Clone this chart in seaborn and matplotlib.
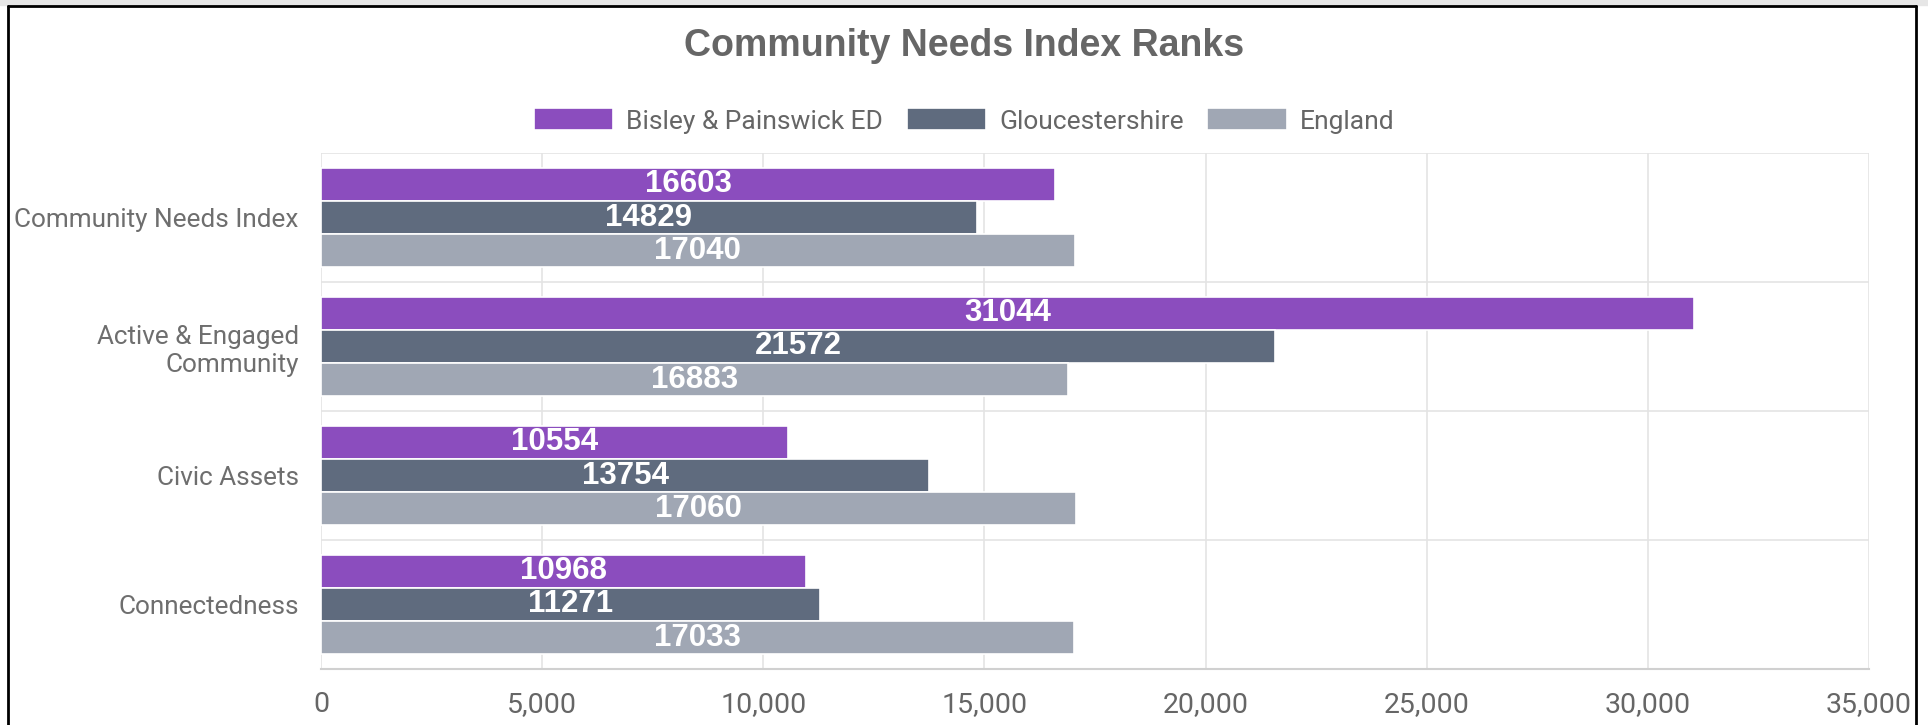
import matplotlib

matplotlib.use("Agg")
import matplotlib.pyplot as plt
from matplotlib.lines import Line2D
from matplotlib.patches import Rectangle
import seaborn as sns
import pandas as pd

categorias = ["Community Needs Index", "Active & Engaged\nCommunity", "Civic Assets", "Connectedness"]
series = ["Bisley & Painswick ED", "Gloucestershire", "England"]
bisley = [16603, 31044, 10554, 10968]
glos = [14829, 21572, 13754, 11271]
england = [17040, 16883, 17060, 17033]
colores = ["#8b4dbe", "#5f6b7e", "#a0a7b4"]
xticks = [0, 5000, 10000, 15000, 20000, 25000, 30000, 35000]

filas = []
for nombre, valores in zip(series, [bisley, glos, england]):
    for cat, v in zip(categorias, valores):
        filas.append({"categoria": cat, "serie": nombre, "valor": v})
df = pd.DataFrame(filas)

sns.set_style("white")
plt.rcParams["font.family"] = ["Roboto", "DejaVu Sans"]

color_texto = "#666666"
color_grid = "#e4e4e4"

fig = plt.figure(figsize=(19.28, 7.25), dpi=100)
fig.patch.set_facecolor("white")
ax = fig.add_axes([321 / 1928, 1 - 669 / 725, (1869 - 321) / 1928, (669 - 153) / 725])

sns.barplot(
    data=df,
    y="categoria",
    x="valor",
    hue="serie",
    orient="h",
    palette=colores,
    width=0.77,
    edgecolor="white",
    linewidth=1.2,
    saturation=1,
    ax=ax,
)

for cont in ax.containers:
    ax.bar_label(
        cont,
        fmt="%.0f",
        label_type="center",
        color="white",
        fontsize=22.5,
        fontweight="bold",
        family=["Liberation Sans", "DejaVu Sans"],
    )

handles, labels = ax.get_legend_handles_labels()
ax.get_legend().remove()
fig.legend(
    handles,
    labels,
    loc="center",
    bbox_to_anchor=(0.5, 1 - 121 / 725),
    ncol=3,
    frameon=False,
    fontsize=19,
    handlelength=3.0,
    handleheight=0.9,
    handletextpad=0.5,
    columnspacing=0.9,
    labelcolor=color_texto,
)

fig.text(
    0.5,
    1 - 56 / 725,
    "Community Needs Index Ranks",
    ha="center",
    va="baseline",
    fontsize=27,
    fontweight="bold",
    color=color_texto,
    family=["Liberation Sans", "DejaVu Sans"],
)

ax.set_xlim(0, 35000)
ax.set_ylim(len(categorias) - 0.5, -0.5)
ax.set_xticks(xticks)
ax.set_xticklabels([f"{t:,}" for t in xticks])
ax.set_yticks([i - 0.5 for i in range(len(categorias) + 1)], minor=True)
ax.set_xlabel("")
ax.set_ylabel("")

ax.grid(axis="x", which="major", color=color_grid, linewidth=1.2)
ax.grid(axis="y", which="minor", color=color_grid, linewidth=1.2)
ax.grid(axis="y", which="major", visible=False)
ax.set_axisbelow(True)

for lado in ["top", "right", "left"]:
    ax.spines[lado].set_visible(False)
ax.spines["bottom"].set_color("#d0d0d0")
ax.spines["bottom"].set_linewidth(1.5)

ax.tick_params(axis="x", which="major", length=10, width=1.2, color=color_grid, labelsize=20.5, labelcolor=color_texto, pad=6)
ax.tick_params(axis="y", which="major", length=0, labelsize=18.8, labelcolor="#6e6e6e", pad=16)
ax.tick_params(axis="y", which="minor", length=11, width=1.2, color=color_grid)

# marco de la captura
fig.add_artist(Rectangle((0, 1 - 5 / 725), 1, 5 / 725, transform=fig.transFigure, color="#e6e6e6", zorder=0))
for xs, ys in [
    ([8 / 1928, 8 / 1928], [0, 1 - 6 / 725]),
    ([1916 / 1928, 1916 / 1928], [0, 1 - 6 / 725]),
    ([8 / 1928, 1916 / 1928], [1 - 6 / 725, 1 - 6 / 725]),
]:
    fig.add_artist(Line2D(xs, ys, transform=fig.transFigure, color="black", linewidth=2))

fig.savefig("out.png", dpi=100, facecolor=fig.get_facecolor())
plt.close(fig)
